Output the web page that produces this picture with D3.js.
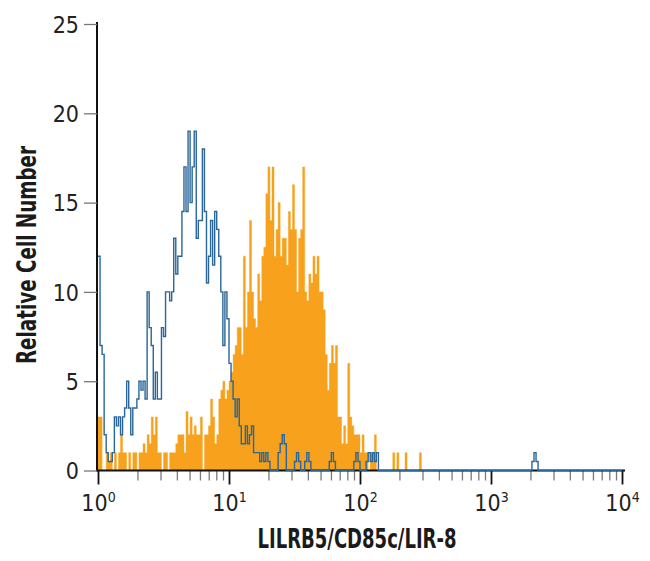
<!DOCTYPE html>
<html>
<head>
<meta charset="utf-8">
<script src="https://cdn.jsdelivr.net/npm/d3@7"></script>
<style>
  html, body { margin: 0; padding: 0; background: #fff; }
  svg { display: block; }
  text { font-family: "Liberation Sans Narrow", "DejaVu Sans Condensed", "Open Sans", sans-serif; }
</style>
</head>
<body>
<svg id="chart" width="650" height="561"></svg>
<script>
// ---- data (256 log-spaced channels over 10^0 .. 10^4) ----
const channelCount = 256;
const decadeMin = 0, decadeMax = 4;

// isotype control (blue outline)
const controlCounts = [
  12,7,6.5,2,1,0.5,0.5,1,3,2.5, 3,2,3,3.5,5,3.5,2,3.5,3.5,4,
  5,4.5,5,4,10,8,7,4,5.5,4, 4,8,7.5,10,10,9.5,10,13,11,12,
  12,14.5,17,14.5,19,15,17,19,13,14, 14,18,14.5,10.5,12,14,11.5,14.5,13.5,12,
  10,7,10,8.5,6,5,4,3,4,2.5, 1.5,1.5,2.5,1.5,2,2.5,1,1,1,0.5,
  1,0.5,1,0.5,0,0,0,0,1,1.5, 2,1.5,0,0,0,0,0.5,1,0.5,0,
  0,0.5,1,0.5,0,0,0,0,0,0, 0,0,0,0.5,1,0.5,0,0,0,0,
  0,0,0,0,0,0.5,1,0.5,0,0, 0,0.5,1,0.5,1,0.5,1,0,0,0,
  0,0,0,0,0,0,0,0,0,0, 0,0,0,0,0,0,0,0,0,0,
  0,0,0,0,0,0,0,0,0,0, 0,0,0,0,0,0,0,0,0,0,
  0,0,0,0,0,0,0,0,0,0, 0,0,0,0,0,0,0,0,0,0,
  0,0,0,0,0,0,0,0,0,0, 0,0,0.5,1,0.5,0,0,0,0,0,
  0,0,0,0,0,0,0,0,0,0, 0,0,0,0,0,0,0,0,0,0,
  0,0,0,0,0,0,0,0,0,0, 0,0,0,0,0,0
];

// LILRB5 stained cells (orange filled)
const stainedCounts = [
  3,3,0,0,1,0.5,1,0,1,0, 1,2,1,1,0,1,0,1,1,0,
  1,1,1.5,1,2,1.5,3,2,3,1, 1,0,1,1,0,1,1,1,1.5,2,
  2,2,1,3.3,2,3,2,2.5,2,2, 3,0,2,2,2.5,4,3,1.5,2,4,
  4.5,5,4,4.5,5,5.5,6.5,7,8,8, 6.5,12,8,10,14,10,8.5,8,11,9.5,
  12,12.5,15.5,17,14,17,12,13.5,15,12, 13,13,11.5,14.5,13.5,16,13.5,10,13,13.5,
  17,10,9.5,11,10.5,12,11,12,10,10, 9,6.5,4.5,6,7,6,7,3,3,1.5,
  2.5,1.5,6,3,2.5,2,2,2,1,2, 1,1,0,1,1,2,0,0,0,0,
  0,0,0,0,1,0,1,0,0,0, 1,0,0,0,0,0,0,1,0,0,
  0,0,0,0,0,0,0,0,0,0, 0,0,0,0,0,0,0,0,0,0,
  0,0,0,0,0,0,0,0,0,0, 0,0,0,0,0,0,0,0,0,0,
  0,0,0,0,0,0,0,0,0,0, 0,0,0,0,0,0,0,0,0,0,
  0,0,0,0,0,0,0,0,0,0, 0,0,0,0,0,0,0,0,0,0,
  0,0,0,0,0,0,0,0,0,0, 0,0,0,0,0,0
];

const yTicks = [0, 5, 10, 15, 20, 25];
const xMajorTicks = [1, 10, 100, 1000, 10000];
const xMajorExponents = ["0", "1", "2", "3", "4"];
const xTitle = "LILRB5/CD85c/LIR-8";
const yTitle = "Relative Cell Number";

// ---- layout ----
const svg = d3.select("#chart");
const x = d3.scaleLog().domain([1, 10000]).range([98, 622]);
const y = d3.scaleLinear().domain([0, 25]).range([470.5, 24]);

const edge = i => Math.pow(10, decadeMin + (decadeMax - decadeMin) * i / channelCount);
function stepPoints(counts) {
  const pts = counts.map((v, i) => ({ lo: edge(i), v }));
  pts.push({ lo: edge(counts.length), v: counts[counts.length - 1] });
  return pts;
}

// orange filled histogram
const area = d3.area()
  .x(d => x(d.lo))
  .y0(y(0))
  .y1(d => y(d.v))
  .curve(d3.curveStepAfter);
svg.append("path")
  .datum(stepPoints(stainedCounts))
  .attr("d", area)
  .attr("fill", "#f7a11c")
  .attr("stroke", "#f7a11c")
  .attr("stroke-width", 0.4);

// x axis: minor ticks
const minorVals = [];
for (let k = 0; k < 4; k++) for (let m = 2; m <= 9; m++) minorVals.push(m * Math.pow(10, k));
const gMinor = svg.append("g").attr("transform", `translate(0,${y(0)})`)
  .call(d3.axisBottom(x).tickValues(minorVals).tickSize(10).tickFormat(""));
gMinor.select(".domain").remove();
gMinor.selectAll(".tick line").attr("stroke", "#7a7a7a").attr("stroke-width", 1.3);

// x axis: major ticks
const gMajor = svg.append("g").attr("transform", `translate(0,${y(0)})`)
  .call(d3.axisBottom(x).tickValues(xMajorTicks).tickSize(14).tickFormat(""));
gMajor.select(".domain").attr("d", `M97,0H625`).attr("stroke", "#111").attr("stroke-width", 2);
gMajor.selectAll(".tick line").attr("stroke", "#111").attr("stroke-width", 1.8);
gMajor.selectAll(".tick").each(function(d, i) {
  const t = d3.select(this).append("text")
    .attr("y", 40)
    .attr("text-anchor", "middle")
    .attr("fill", "#222")
    .style("font-size", "23px");
  t.append("tspan").text("10");
  t.append("tspan").attr("dy", -9).style("font-size", "14px").text(xMajorExponents[i]);
});

// blue outlined histogram
const line = d3.line()
  .x(d => x(d.lo))
  .y(d => y(d.v))
  .curve(d3.curveStepAfter);
svg.append("path")
  .datum(stepPoints(controlCounts))
  .attr("d", line)
  .attr("fill", "none")
  .attr("stroke", "#2a6699")
  .attr("stroke-width", 1.4)
  .attr("stroke-linejoin", "miter");

// y axis
const gy = svg.append("g").attr("transform", `translate(97,0)`)
  .call(d3.axisLeft(y).tickValues(yTicks).tickSize(13).tickPadding(5).tickFormat(d3.format("d")));
gy.select(".domain").attr("d", `M0,22V${y(0) + 1}`).attr("stroke", "#111").attr("stroke-width", 2);
gy.selectAll(".tick line").attr("stroke", "#777").attr("stroke-width", 1.3);
gy.selectAll(".tick text").attr("fill", "#222").style("font-size", "23px")
  .attr("dy", "0.36em");

// titles
svg.append("text")
  .attr("x", 357).attr("y", 548)
  .attr("text-anchor", "middle")
  .attr("fill", "#1a1a1a")
  .style("font-size", "27px").style("font-weight", "bold")
  .attr("textLength", 199).attr("lengthAdjust", "spacingAndGlyphs")
  .text(xTitle);

svg.append("text")
  .attr("transform", "translate(36,255) rotate(-90)")
  .attr("text-anchor", "middle")
  .attr("fill", "#1a1a1a")
  .style("font-size", "27px").style("font-weight", "bold")
  .attr("textLength", 218).attr("lengthAdjust", "spacingAndGlyphs")
  .text(yTitle);
</script>
</body>
</html>
